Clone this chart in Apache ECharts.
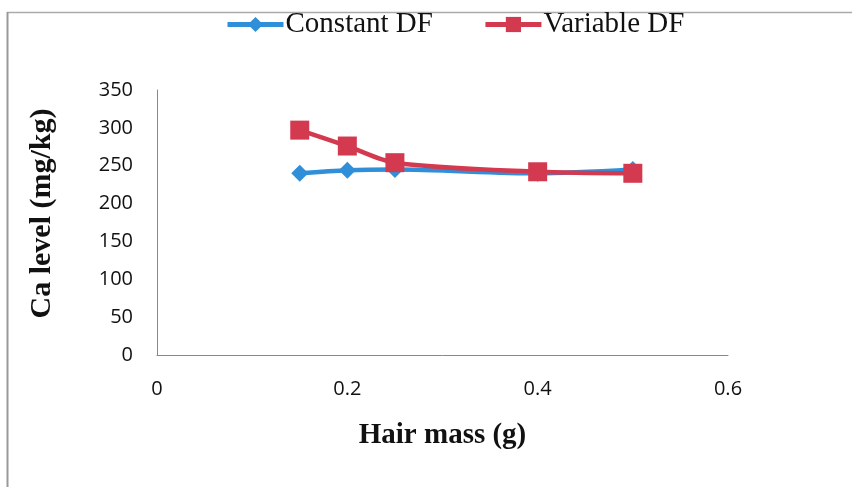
<!DOCTYPE html>
<html>
<head>
<meta charset="utf-8">
<title>Ca level vs hair mass</title>
<script src="https://cdn.jsdelivr.net/npm/echarts@6/dist/echarts.min.js"></script>
<style>
  html, body { margin: 0; padding: 0; background: #fff; }
  #chart { width: 852px; height: 487px; }
</style>
</head>
<body>
<div id="chart"></div>
<script>
// hair mass (g)
const hairMass = [0.15, 0.2, 0.25, 0.4, 0.5]
// Ca level (mg/kg)
const constantDF = [240, 244, 245, 240, 245]
const variableDF = [297, 276, 254, 242, 240]

const seriesNames = ['Constant DF', 'Variable DF']
const blue = '#2F8FD8'
const red = '#D43A4F'

function pairs(xs, ys) {
  return xs.map((x, i) => [x, ys[i]])
}

const chart = echarts.init(document.getElementById('chart'))

chart.setOption({
  backgroundColor: '#fff',
  animation: false,
  graphic: [
    // frame of the original figure
    { type: 'line', shape: { x1: 7, y1: 12.5, x2: 852, y2: 12.5 }, style: { stroke: '#aaa', lineWidth: 1.5 } },
    { type: 'line', shape: { x1: 7.5, y1: 12, x2: 7.5, y2: 487 }, style: { stroke: '#999', lineWidth: 2 } }
  ],
  legend: {
    top: 5,
    left: 220,
    itemGap: 50,
    itemWidth: 56,
    itemHeight: 19,
    data: seriesNames,
    lineStyle: { width: 5 },
    textStyle: {
      fontFamily: 'Liberation Serif',
      fontSize: 29,
      color: '#111',
      padding: [0, 0, 0, -3]
    }
  },
  grid: {
    left: 157,
    right: 124,
    top: 90,
    bottom: 132,
    containLabel: false
  },
  xAxis: {
    type: 'value',
    min: 0,
    max: 0.6,
    interval: 0.2,
    name: 'Hair mass (g)',
    nameLocation: 'middle',
    nameGap: 66,
    nameTextStyle: {
      fontFamily: 'Liberation Serif',
      fontWeight: 'bold',
      fontSize: 29,
      color: '#111'
    },
    axisLine: { show: true, lineStyle: { color: '#888', width: 1 } },
    axisTick: { show: false },
    splitLine: { show: false },
    axisLabel: {
      fontFamily: 'Open Sans',
      fontSize: 20,
      color: '#111',
      margin: 24
    }
  },
  yAxis: {
    type: 'value',
    min: 0,
    max: 350,
    interval: 50,
    name: 'Ca level (mg/kg)',
    nameLocation: 'middle',
    nameGap: 100,
    nameTextStyle: {
      fontFamily: 'Liberation Serif',
      fontWeight: 'bold',
      fontSize: 30,
      color: '#111',
      padding: [0, 0, 0, 18]
    },
    axisLine: { show: true, lineStyle: { color: '#888', width: 1 } },
    axisTick: { show: false },
    splitLine: { show: false },
    axisLabel: {
      fontFamily: 'Open Sans',
      fontSize: 20,
      color: '#111',
      margin: 24
    }
  },
  series: [
    {
      name: seriesNames[0],
      type: 'line',
      smooth: 0.3,
      data: pairs(hairMass, constantDF),
      symbol: 'diamond',
      symbolSize: 17,
      itemStyle: { color: blue },
      lineStyle: { color: blue, width: 4.5 },
      z: 2
    },
    {
      name: seriesNames[1],
      type: 'line',
      smooth: 0.3,
      data: pairs(hairMass, variableDF),
      symbol: 'rect',
      symbolSize: 19,
      itemStyle: { color: red },
      lineStyle: { color: red, width: 4.5 },
      z: 3
    }
  ]
})
</script>
</body>
</html>
